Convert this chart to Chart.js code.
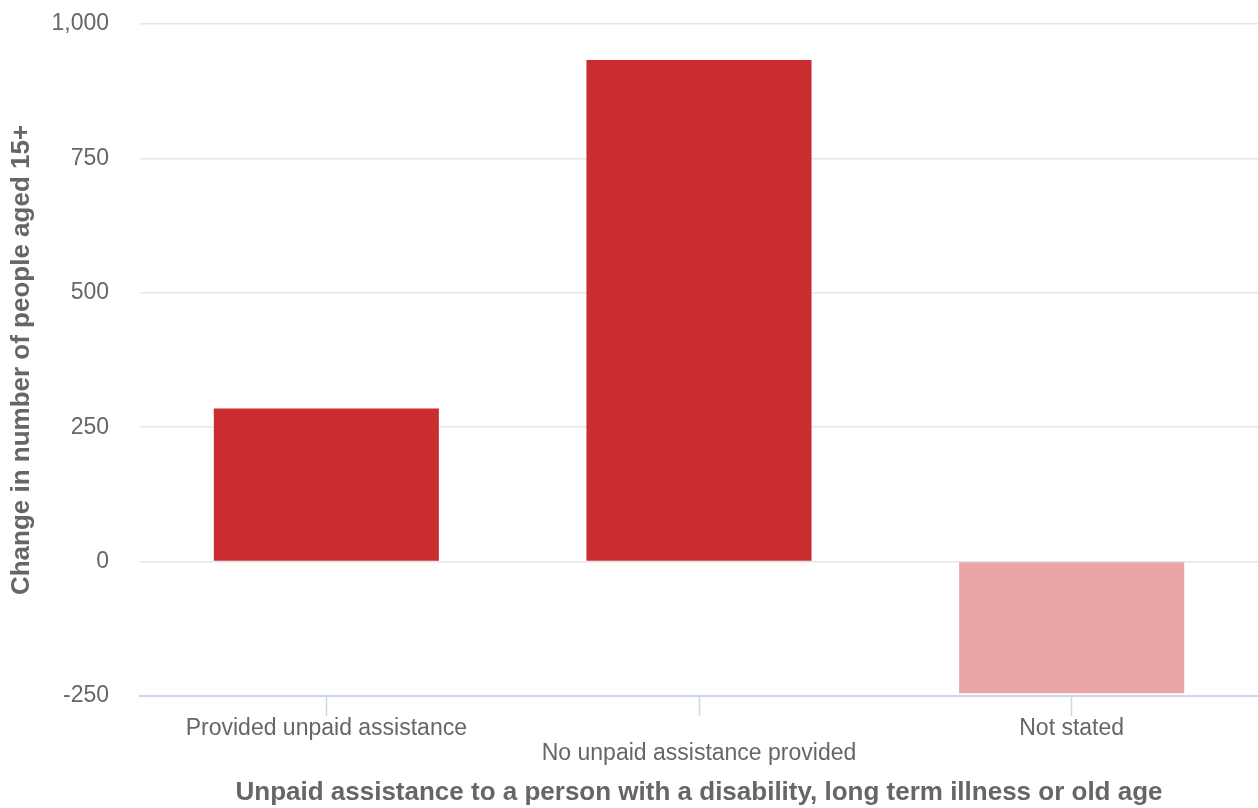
<!DOCTYPE html>
<html>
<head>
<meta charset="utf-8">
<script src="https://cdn.jsdelivr.net/npm/chart.js@4/dist/chart.umd.min.js"></script>
<style>
  html, body { margin: 0; padding: 0; background: #fff; }
  #wrap { width: 1258px; height: 808px; }
</style>
</head>
<body>
<div id="wrap"><canvas id="chart"></canvas></div>
<script>
// data
const categories = ["Provided unpaid assistance", "No unpaid assistance provided", "Not stated"];
const changeValues = [285, 933, -245];
const barColors = ["#cb2c30", "#cb2c30", "#eaa5a6"];
const yTicks = [-250, 0, 250, 500, 750, 1000];

const axisColor = "#ccd6eb";
const textColor = "#666666";

Chart.defaults.font.family = "'Liberation Sans', Arial, sans-serif";

new Chart(document.getElementById("chart"), {
  type: "bar",
  data: {
    labels: categories,
    datasets: [{
      data: changeValues,
      backgroundColor: barColors,
      borderWidth: 0,
      categoryPercentage: 1,
      barPercentage: 0.604
    }]
  },
  options: {
    responsive: true,
    maintainAspectRatio: false,
    animation: false,
    layout: { padding: { top: 24, right: 0, left: 6, bottom: 0 } },
    plugins: {
      legend: { display: false },
      tooltip: { enabled: false }
    },
    scales: {
      x: {
        afterFit: axis => { axis.height = 112; },
        grid: {
          offset: false,
          drawOnChartArea: false,
          color: axisColor,
          tickLength: 20,
          tickWidth: 1.5
        },
        border: { color: axisColor, width: 2 },
        ticks: {
          color: textColor,
          font: { size: 23, lineHeight: 1.1 },
          padding: 0,
          maxRotation: 0,
          autoSkip: false,
          // stagger the middle label onto a second row
          callback: function (value, index) {
            const lab = this.getLabelForValue(value);
            return index === 1 ? ["", lab] : lab;
          }
        },
        title: {
          display: true,
          text: "Unpaid assistance to a person with a disability, long term illness or old age",
          color: textColor,
          font: { size: 26, weight: "bold" },
          padding: { top: 2, bottom: 0 }
        }
      },
      y: {
        min: yTicks[0],
        max: yTicks[yTicks.length - 1],
        afterBuildTicks: axis => { axis.ticks = yTicks.map(v => ({ value: v })); },
        afterFit: axis => {
          axis.width = 134;
          axis.paddingTop = 0;
          axis.paddingBottom = 0;
        },
        grid: { color: "#e6e6e6", lineWidth: 1.5, drawTicks: false },
        border: { display: false },
        ticks: {
          color: textColor,
          font: { size: 23 },
          padding: 31,
          callback: v => v.toLocaleString("en-US")
        },
        title: {
          display: true,
          text: "Change in number of people aged 15+",
          color: textColor,
          font: { size: 26, weight: "bold" },
          padding: { top: 0, bottom: 0 }
        }
      }
    }
  }
});
</script>
</body>
</html>
